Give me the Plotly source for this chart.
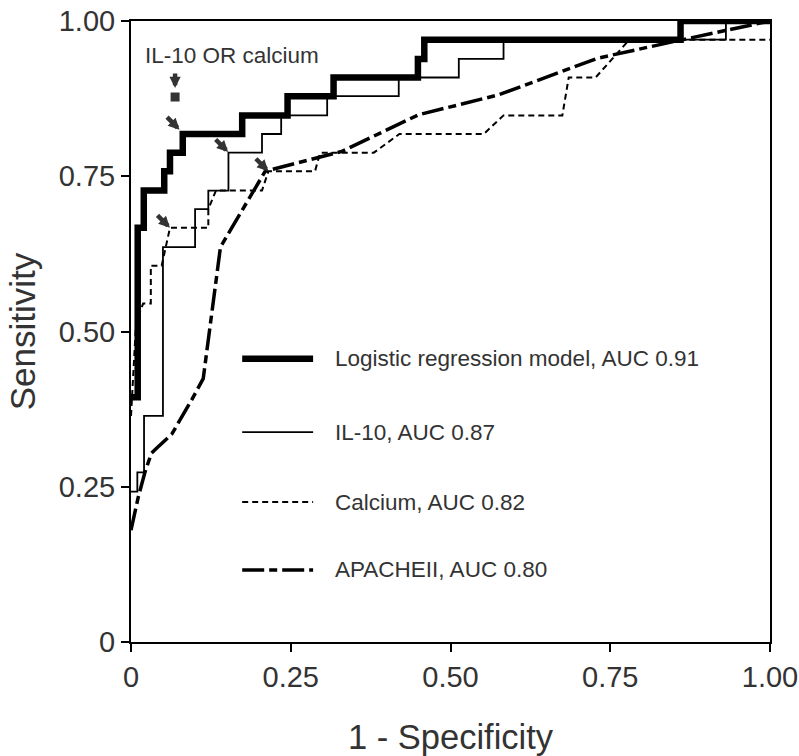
import plotly.graph_objects as go

# ---------------- data ----------------
# Logistic regression model (step curve, drawn with 'vh' shape)
lr_fpr = [0.0, 0.0105, 0.020, 0.052, 0.061, 0.081, 0.174, 0.245, 0.317, 0.449, 0.459, 0.860, 1.0]
lr_tpr = [0.394, 0.394, 0.667, 0.727, 0.758, 0.788, 0.818, 0.848, 0.879, 0.909, 0.939, 0.970, 1.0]

# IL-10
il_fpr = [0.0, 0.0099, 0.0099, 0.0204, 0.0204, 0.050, 0.050, 0.1003, 0.1003, 0.121, 0.121, 0.1525,
          0.1525, 0.205, 0.205, 0.235, 0.235, 0.307, 0.307, 0.419, 0.419, 0.513, 0.513, 0.583,
          0.583, 0.931, 0.931, 1.0]
il_tpr = [0.242, 0.242, 0.273, 0.273, 0.364, 0.364, 0.636, 0.636, 0.697, 0.697, 0.727, 0.727,
          0.788, 0.788, 0.818, 0.818, 0.848, 0.848, 0.879, 0.879, 0.909, 0.909, 0.939, 0.939,
          0.970, 0.970, 1.0, 1.0]

# Calcium
ca_fpr = [0.0, 0.008, 0.019, 0.031, 0.031, 0.048, 0.061, 0.121, 0.121, 0.133, 0.205, 0.215,
          0.288, 0.296, 0.380, 0.420, 0.552, 0.583, 0.675, 0.685, 0.727, 0.780, 1.0]
ca_tpr = [0.364, 0.515, 0.545, 0.545, 0.606, 0.606, 0.667, 0.667, 0.697, 0.727, 0.727, 0.758,
          0.758, 0.788, 0.788, 0.818, 0.818, 0.848, 0.848, 0.909, 0.909, 0.970, 0.970]

# APACHE II
ap_fpr = [0.0, 0.0115, 0.022, 0.032, 0.040, 0.064, 0.095, 0.113, 0.140, 0.210, 0.330, 0.450,
          0.575, 0.660, 0.730, 0.850, 1.0]
ap_tpr = [0.180, 0.234, 0.274, 0.304, 0.312, 0.335, 0.390, 0.424, 0.636, 0.758, 0.790, 0.849,
          0.881, 0.913, 0.940, 0.967, 1.0]

# highlighted cut-off points (arrow tips)
arrow_x = [0.076, 0.152, 0.215, 0.061]
arrow_y = [0.825, 0.789, 0.758, 0.667]

# combined rule point
combo_x = [0.069]
combo_y = [0.8776]
combo_label = "IL-10 OR calcium"

legend_names = ["Logistic regression model, AUC 0.91", "IL-10, AUC 0.87",
                "Calcium, AUC 0.82", "APACHEII, AUC 0.80"]

tick_vals = [0, 0.25, 0.5, 0.75, 1.0]
tick_text = ["0", "0.25", "0.50", "0.75", "1.00"]

# ---------------- styles ----------------
TXT = "#333333"
FONT = "Liberation Sans, Arial"
styles = [
    dict(color="black", width=6.5, dash="solid"),
    dict(color="black", width=1.8, dash="solid"),
    dict(color="black", width=2.0, dash="6px,4px"),
    dict(color="black", width=3.5, dash="22px,5px,8px,5px"),
]

fig = go.Figure()
fig.add_trace(go.Scatter(x=ap_fpr, y=ap_tpr, mode="lines", line=styles[3], name=legend_names[3]))
fig.add_trace(go.Scatter(x=ca_fpr, y=ca_tpr, mode="lines", line=styles[2], name=legend_names[2]))
fig.add_trace(go.Scatter(x=il_fpr, y=il_tpr, mode="lines", line=styles[1], name=legend_names[1]))
fig.add_trace(go.Scatter(x=lr_fpr, y=lr_tpr, mode="lines", line=dict(shape="vh", **styles[0]),
                         name=legend_names[0]))
fig.add_trace(go.Scatter(x=combo_x, y=combo_y, mode="markers",
                         marker=dict(symbol="square", size=9, color=TXT), name=combo_label))

arrow_style = dict(showarrow=True, arrowhead=2, arrowwidth=4.5, arrowsize=0.5,
                   arrowcolor=TXT, standoff=0, text="", xref="x", yref="y")
annotations = []
for ax_, ay_ in zip(arrow_x, arrow_y):
    annotations.append(dict(x=ax_, y=ay_, ax=-14, ay=-14, **arrow_style))
# down arrow above combined point
annotations.append(dict(x=combo_x[0], y=0.892, ax=0, ay=-16, **arrow_style))
annotations.append(dict(x=0.019, y=0.945, xref="x", yref="y", text=combo_label, showarrow=False,
                        xanchor="left", yanchor="middle",
                        font=dict(size=22.5, color=TXT, family=FONT)))

# manual legend
leg_y = [0.456, 0.338, 0.2254, 0.116]
shapes = []
for i, name in enumerate(legend_names):
    st = styles[i]
    shapes.append(dict(type="line", xref="x", yref="y", x0=0.174, x1=0.285, y0=leg_y[i], y1=leg_y[i],
                       line=dict(color=st["color"], width=st["width"], dash=st["dash"])))
    annotations.append(dict(x=0.3166, y=leg_y[i], xref="x", yref="y", text=name, showarrow=False,
                            xanchor="left", yanchor="middle",
                            font=dict(size=22.5, color=TXT, family=FONT)))

axis_common = dict(
    range=[0, 1], showgrid=False, zeroline=False, showline=True, linecolor="black", linewidth=2,
    mirror=True, ticks="outside", ticklen=8, tickwidth=2, tickcolor="black",
    tickvals=tick_vals, ticktext=tick_text, ticklabeloverflow="allow",
    tickfont=dict(size=29, color=TXT, family=FONT),
)

fig.update_layout(
    width=799, height=756,
    margin=dict(l=131, r=29, t=21, b=114, autoexpand=False),
    paper_bgcolor="white", plot_bgcolor="white",
    showlegend=False,
    xaxis=dict(**axis_common, title=dict(text="1 - Specificity", standoff=33,
                                         font=dict(size=34.5, color=TXT, family=FONT))),
    yaxis=dict(**axis_common, title=dict(text="Sensitivity", standoff=12,
                                         font=dict(size=35, color=TXT, family=FONT))),
    annotations=annotations,
    shapes=shapes,
)

fig.write_html("out.html", config={"displayModeBar": False},
               post_script="document.body.style.margin='0';document.body.style.overflow='hidden';")
